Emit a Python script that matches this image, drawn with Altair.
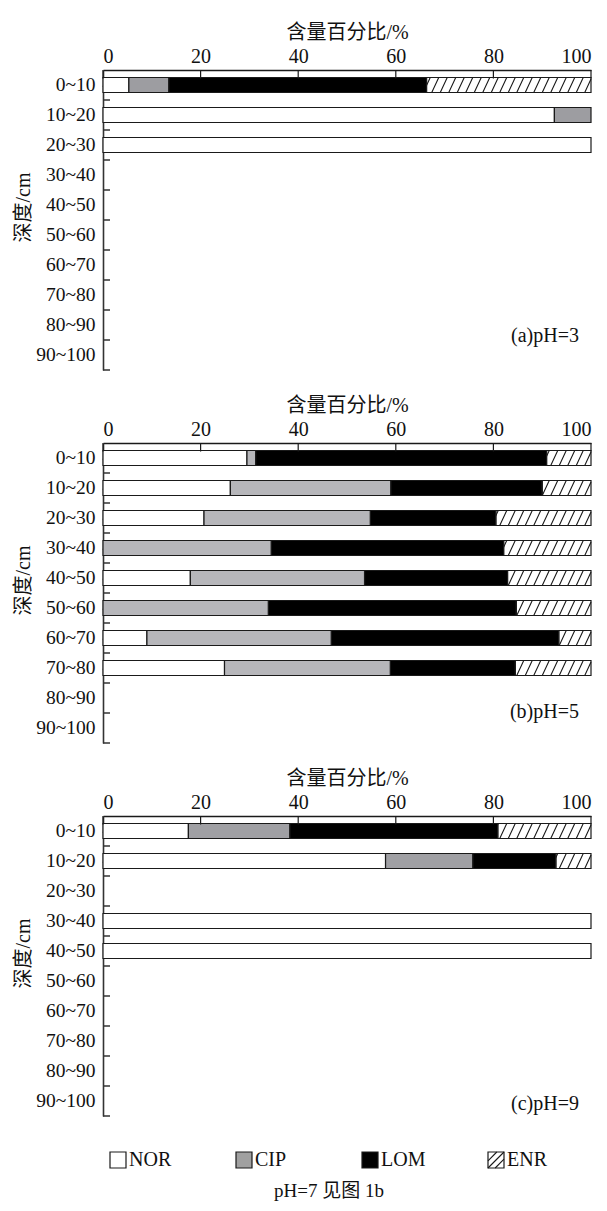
import altair as alt
import pandas as pd

# ---------------- data ----------------
depths = ["0~10", "10~20", "20~30", "30~40", "40~50",
          "50~60", "60~70", "70~80", "80~90", "90~100"]
series = ["NOR", "CIP", "LOM", "ENR"]
x_ticks = [0, 20, 40, 60, 80, 100]

# (a) pH=3
a_rows = ["0~10", "10~20", "20~30"]
a_NOR = [5.3, 92.5, 100.0]
a_CIP = [8.2, 7.5, 0.0]
a_LOM = [52.8, 0.0, 0.0]
a_ENR = [33.7, 0.0, 0.0]

# (b) pH=5
b_rows = ["0~10", "10~20", "20~30", "30~40", "40~50", "50~60", "60~70", "70~80"]
b_NOR = [29.5, 26.1, 20.7, 0.0, 17.9, 0.0, 9.0, 24.9]
b_CIP = [1.8, 32.9, 34.1, 34.5, 35.7, 33.9, 37.8, 34.0]
b_LOM = [59.6, 31.0, 25.7, 47.6, 29.3, 50.8, 46.6, 25.6]
b_ENR = [9.1, 10.0, 19.5, 17.9, 17.1, 15.3, 6.6, 15.5]

# (c) pH=9
c_rows = ["0~10", "10~20", "30~40", "40~50"]
c_NOR = [17.5, 57.9, 100.0, 100.0]
c_CIP = [20.8, 17.9, 0.0, 0.0]
c_LOM = [42.6, 17.0, 0.0, 0.0]
c_ENR = [19.1, 7.2, 0.0, 0.0]

panel_labels = ["(a)pH=3", "(b)pH=5", "(c)pH=9"]
x_title = "含量百分比/%"
y_title = "深度/cm"
footnote = "pH=7 见图 1b"

# ---------------- style ----------------
W, H = 488, 300
BAR = 15
SERIF = "Liberation Serif"
MIXED = "Liberation Serif, Noto Sans CJK SC"
INK = "#1a1a1a"


def hatch_path(width=W, height=BAR, gap=8.5, run=7.0):
    s = width / 2.0
    h = height / 2.0 / s
    g = gap / s
    r = run / s
    parts = []
    x = -1.0 - r + g / 2
    while x < 1.0:
        x0, y0, x1, y1 = x, h, x + r, -h
        if x0 < -1.0:
            t = (-1.0 - x) / r
            x0, y0 = -1.0, h - 2 * h * t
        if x1 > 1.0:
            t = (1.0 - x) / r
            x1, y1 = 1.0, h - 2 * h * t
        parts.append(f"M{x0:.5f},{y0:.5f}L{x1:.5f},{y1:.5f}")
        x += g
    return "".join(parts)


HATCH = hatch_path()


def panel(rows, vals, label, cip_color, ann_y):
    recs = []
    for i, d in enumerate(rows):
        cum = 0.0
        for s, arr in zip(series, vals):
            v = arr[i]
            if v > 0:
                recs.append({"depth": d, "series": s, "start": cum, "end": cum + v})
            cum += v
    df = pd.DataFrame(recs)
    hatch_df = pd.DataFrame({"depth": [d for d, e in zip(rows, vals[3]) if e > 0]})
    ytick_df = pd.DataFrame({"depth": depths})
    xtick_df = pd.DataFrame({"t": x_ticks})

    x_scale = alt.Scale(domain=[0, 100], nice=False, zero=True)
    y_scale = alt.Scale(domain=depths, paddingInner=0, paddingOuter=0)
    x_axis = alt.Axis(orient="top", values=x_ticks, title=x_title, grid=False,
                      ticks=False, tickSize=0, domain=True, domainColor=INK,
                      domainWidth=1.3, labelFont=SERIF, labelFontSize=20,
                      labelColor="#111", labelPadding=4, labelAngle=0,
                      titleFont=MIXED, titleFontSize=20, titleFontWeight="normal",
                      titleColor="#111", titlePadding=4)
    y_axis = alt.Axis(title=y_title, ticks=False, tickSize=0, domain=True,
                      domainColor="#333", domainWidth=1.6, labelFont=SERIF,
                      labelFontSize=19.5, labelColor="#111", labelPadding=8,
                      titleFont=MIXED, titleFontSize=20, titleFontWeight="normal",
                      titleColor="#111", titlePadding=2, titleY=137)

    y_enc = alt.Y("depth:N", scale=y_scale, sort=depths, axis=y_axis)

    hatch = alt.Chart(hatch_df).mark_point(
        shape=HATCH, size=W * W, filled=False, stroke=INK, strokeWidth=1.1,
        opacity=1
    ).encode(x=alt.X(datum=50, type="quantitative", scale=x_scale, axis=x_axis), y=y_enc)

    bars = alt.Chart(df).mark_bar(size=BAR, stroke=INK, strokeWidth=1.2).encode(
        x=alt.X("start:Q", scale=x_scale, axis=x_axis),
        x2="end:Q",
        y=y_enc,
        fill=alt.Fill("series:N", scale=alt.Scale(domain=series,
                      range=["white", cip_color, "black", "transparent"]), legend=None),
    )

    yticks = alt.Chart(ytick_df).mark_rule(color="#333", strokeWidth=1.5).encode(
        y=alt.Y("depth:N", scale=y_scale, sort=depths, axis=y_axis, bandPosition=1),
        x=alt.value(0), x2=alt.value(7),
    )

    xticks = alt.Chart(xtick_df).mark_rule(color=INK, strokeWidth=1.2).encode(
        x=alt.X("t:Q", scale=x_scale, axis=x_axis),
        y=alt.value(0), y2=alt.value(8.5),
    )

    ann = alt.Chart(pd.DataFrame({"label": [label]})).mark_text(
        font=SERIF, fontSize=20, align="right", baseline="middle", color="#111"
    ).encode(text="label:N", x=alt.value(476), y=alt.value(ann_y))

    return alt.layer(hatch, bars, yticks, xticks, ann).properties(width=W, height=H)


pa = panel(a_rows, [a_NOR, a_CIP, a_LOM, a_ENR], panel_labels[0], "#9d9da1", 266)
pb = panel(b_rows, [b_NOR, b_CIP, b_LOM, b_ENR], panel_labels[1], "#b6b6ba", 269)
pc = panel(c_rows, [c_NOR, c_CIP, c_LOM, c_ENR], panel_labels[2], "#a0a0a4", 288)

# ---------------- legend ----------------
leg_df = pd.DataFrame({"series": series})
leg_x = alt.X("series:N", scale=alt.Scale(type="point", domain=series,
              range=[15, 393], padding=0), axis=None)
squares = alt.Chart(leg_df).mark_square(size=256, stroke=INK, strokeWidth=1.2,
                                        opacity=1).encode(
    x=leg_x, y=alt.value(19),
    fill=alt.Fill("series:N", scale=alt.Scale(domain=series,
                  range=["white", "#a0a0a0", "black", "white"]), legend=None),
)
leg_hatch = alt.Chart(leg_df).transform_filter(alt.datum.series == "ENR").mark_point(
    shape="M-1,1L1,-1M-1,0.1L0.1,-1M-0.1,1L1,-0.1", size=256, filled=False,
    stroke=INK, strokeWidth=1.1, opacity=1
).encode(x=leg_x, y=alt.value(19))
leg_text = alt.Chart(leg_df).mark_text(font=SERIF, fontSize=20, align="left",
                                       baseline="middle", dx=11, color="#111").encode(
    x=leg_x, y=alt.value(19), text="series:N")
foot = alt.Chart(pd.DataFrame({"t": [footnote]})).mark_text(
    font=MIXED, fontSize=19, align="center", baseline="middle", color="#111"
).encode(x=alt.value(226), y=alt.value(50), text="t:N")

legend = alt.layer(squares, leg_hatch, leg_text, foot).properties(width=W, height=58)

chart = alt.vconcat(pa, pb, pc, legend, spacing=24).resolve_scale(
    fill="independent", x="independent", y="independent"
).properties(
    padding={"left": 5, "top": 14, "right": 0, "bottom": 0}
).configure_view(stroke=None)

chart.save("out.html", embed_options={"renderer": "svg", "actions": False})
